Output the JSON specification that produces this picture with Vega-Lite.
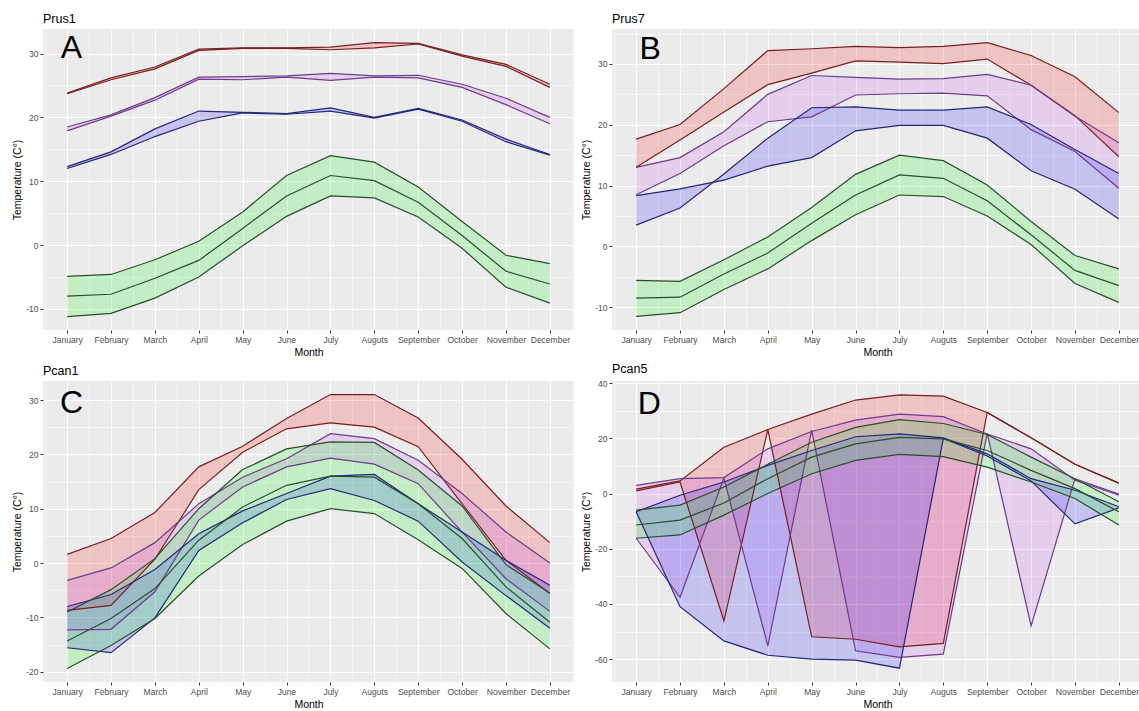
{
  "$schema": "https://vega.github.io/schema/vega-lite/v6.json",
  "padding": {"left": 12, "top": 12, "right": 0, "bottom": 0},
  "background": "#FFFFFF",
  "datasets": {
    "t": [
      {"p":"A","s":"red","m":1,"lo":23.7,"hi":23.8},{"p":"A","s":"red","m":2,"lo":25.9,"hi":26.2},{"p":"A","s":"red","m":3,"lo":27.6,"hi":27.9},{"p":"A","s":"red","m":4,"lo":30.5,"hi":30.7},{"p":"A","s":"red","m":5,"lo":30.8,"hi":30.9},{"p":"A","s":"red","m":6,"lo":30.8,"hi":30.9},{"p":"A","s":"red","m":7,"lo":30.6,"hi":31.0},{"p":"A","s":"red","m":8,"lo":30.9,"hi":31.7},{"p":"A","s":"red","m":9,"lo":31.5,"hi":31.6},{"p":"A","s":"red","m":10,"lo":29.6,"hi":29.8},{"p":"A","s":"red","m":11,"lo":28.0,"hi":28.3},{"p":"A","s":"red","m":12,"lo":24.7,"hi":25.2},
      {"p":"A","s":"purple","m":1,"lo":17.9,"hi":18.5},{"p":"A","s":"purple","m":2,"lo":20.2,"hi":20.4},{"p":"A","s":"purple","m":3,"lo":22.7,"hi":23.1},{"p":"A","s":"purple","m":4,"lo":26.0,"hi":26.3},{"p":"A","s":"purple","m":5,"lo":25.9,"hi":26.4},{"p":"A","s":"purple","m":6,"lo":26.3,"hi":26.5},{"p":"A","s":"purple","m":7,"lo":25.8,"hi":26.9},{"p":"A","s":"purple","m":8,"lo":26.3,"hi":26.5},{"p":"A","s":"purple","m":9,"lo":26.2,"hi":26.6},{"p":"A","s":"purple","m":10,"lo":24.7,"hi":25.2},{"p":"A","s":"purple","m":11,"lo":22.0,"hi":23.0},{"p":"A","s":"purple","m":12,"lo":19.0,"hi":20.0},
      {"p":"A","s":"blue","m":1,"lo":12.0,"hi":12.3},{"p":"A","s":"blue","m":2,"lo":14.2,"hi":14.6},{"p":"A","s":"blue","m":3,"lo":17.0,"hi":18.2},{"p":"A","s":"blue","m":4,"lo":19.4,"hi":21.0},{"p":"A","s":"blue","m":5,"lo":20.7,"hi":20.8},{"p":"A","s":"blue","m":6,"lo":20.5,"hi":20.6},{"p":"A","s":"blue","m":7,"lo":21.0,"hi":21.5},{"p":"A","s":"blue","m":8,"lo":19.9,"hi":20.0},{"p":"A","s":"blue","m":9,"lo":21.3,"hi":21.4},{"p":"A","s":"blue","m":10,"lo":19.4,"hi":19.6},{"p":"A","s":"blue","m":11,"lo":16.2,"hi":16.6},{"p":"A","s":"blue","m":12,"lo":14.1,"hi":14.2},
      {"p":"A","s":"green","m":1,"lo":-11.2,"mid":-8.0,"hi":-4.9},{"p":"A","s":"green","m":2,"lo":-10.7,"mid":-7.7,"hi":-4.6},{"p":"A","s":"green","m":3,"lo":-8.3,"mid":-5.2,"hi":-2.3},{"p":"A","s":"green","m":4,"lo":-5.0,"mid":-2.4,"hi":0.6},{"p":"A","s":"green","m":5,"lo":-0.1,"mid":2.6,"hi":5.2},{"p":"A","s":"green","m":6,"lo":4.5,"mid":7.7,"hi":10.9},{"p":"A","s":"green","m":7,"lo":7.7,"mid":10.9,"hi":14.0},{"p":"A","s":"green","m":8,"lo":7.4,"mid":10.1,"hi":13.0},{"p":"A","s":"green","m":9,"lo":4.4,"mid":6.7,"hi":9.1},{"p":"A","s":"green","m":10,"lo":-0.5,"mid":1.5,"hi":3.7},{"p":"A","s":"green","m":11,"lo":-6.6,"mid":-4.1,"hi":-1.6},{"p":"A","s":"green","m":12,"lo":-9.1,"mid":-6.1,"hi":-2.9},

      {"p":"B","s":"red","m":1,"lo":13.0,"hi":17.65},{"p":"B","s":"red","m":2,"lo":17.5,"hi":20.05},{"p":"B","s":"red","m":3,"lo":22.1,"hi":25.95},{"p":"B","s":"red","m":4,"lo":26.6,"hi":32.2},{"p":"B","s":"red","m":5,"lo":28.5,"hi":32.5},{"p":"B","s":"red","m":6,"lo":30.5,"hi":32.9},{"p":"B","s":"red","m":7,"lo":30.3,"hi":32.7},{"p":"B","s":"red","m":8,"lo":30.05,"hi":32.9},{"p":"B","s":"red","m":9,"lo":30.8,"hi":33.5},{"p":"B","s":"red","m":10,"lo":26.5,"hi":31.4},{"p":"B","s":"red","m":11,"lo":21.5,"hi":27.9},{"p":"B","s":"red","m":12,"lo":14.75,"hi":22.0},
      {"p":"B","s":"purple","m":1,"lo":8.5,"hi":13.0},{"p":"B","s":"purple","m":2,"lo":12.0,"hi":14.6},{"p":"B","s":"purple","m":3,"lo":16.55,"hi":18.85},{"p":"B","s":"purple","m":4,"lo":20.5,"hi":25.0},{"p":"B","s":"purple","m":5,"lo":21.3,"hi":28.1},{"p":"B","s":"purple","m":6,"lo":24.9,"hi":27.8},{"p":"B","s":"purple","m":7,"lo":25.1,"hi":27.5},{"p":"B","s":"purple","m":8,"lo":25.2,"hi":27.6},{"p":"B","s":"purple","m":9,"lo":24.75,"hi":28.3},{"p":"B","s":"purple","m":10,"lo":19.2,"hi":26.5},{"p":"B","s":"purple","m":11,"lo":15.6,"hi":21.4},{"p":"B","s":"purple","m":12,"lo":9.55,"hi":17.05},
      {"p":"B","s":"blue","m":1,"lo":8.35,"hi":3.5},{"p":"B","s":"blue","m":2,"lo":9.45,"hi":6.3},{"p":"B","s":"blue","m":3,"lo":10.9,"hi":11.9},{"p":"B","s":"blue","m":4,"lo":13.2,"hi":17.8},{"p":"B","s":"blue","m":5,"lo":14.6,"hi":22.8},{"p":"B","s":"blue","m":6,"lo":19.0,"hi":22.95},{"p":"B","s":"blue","m":7,"lo":19.9,"hi":22.4},{"p":"B","s":"blue","m":8,"lo":19.9,"hi":22.4},{"p":"B","s":"blue","m":9,"lo":17.8,"hi":22.95},{"p":"B","s":"blue","m":10,"lo":12.45,"hi":20.05},{"p":"B","s":"blue","m":11,"lo":9.4,"hi":15.95},{"p":"B","s":"blue","m":12,"lo":4.5,"hi":12.0},
      {"p":"B","s":"green","m":1,"lo":-11.5,"mid":-8.5,"hi":-5.6},{"p":"B","s":"green","m":2,"lo":-10.9,"mid":-8.35,"hi":-5.75},{"p":"B","s":"green","m":3,"lo":-7.1,"mid":-4.55,"hi":-2.2},{"p":"B","s":"green","m":4,"lo":-3.7,"mid":-1.1,"hi":1.55},{"p":"B","s":"green","m":5,"lo":0.95,"mid":3.8,"hi":6.4},{"p":"B","s":"green","m":6,"lo":5.2,"mid":8.45,"hi":11.85},{"p":"B","s":"green","m":7,"lo":8.45,"mid":11.75,"hi":15.0},{"p":"B","s":"green","m":8,"lo":8.2,"mid":11.2,"hi":14.1},{"p":"B","s":"green","m":9,"lo":5.0,"mid":7.5,"hi":10.1},{"p":"B","s":"green","m":10,"lo":0.3,"mid":1.9,"hi":4.1},{"p":"B","s":"green","m":11,"lo":-6.1,"mid":-3.95,"hi":-1.5},{"p":"B","s":"green","m":12,"lo":-9.2,"mid":-6.45,"hi":-3.7},

      {"p":"C","s":"red","m":1,"lo":-8.7,"hi":1.6},{"p":"C","s":"red","m":2,"lo":-7.8,"hi":4.5},{"p":"C","s":"red","m":3,"lo":0.7,"hi":9.3},{"p":"C","s":"red","m":4,"lo":13.5,"hi":17.7},{"p":"C","s":"red","m":5,"lo":20.4,"hi":21.5},{"p":"C","s":"red","m":6,"lo":24.7,"hi":26.6},{"p":"C","s":"red","m":7,"lo":25.8,"hi":31.0},{"p":"C","s":"red","m":8,"lo":25.0,"hi":31.0},{"p":"C","s":"red","m":9,"lo":21.4,"hi":26.7},{"p":"C","s":"red","m":10,"lo":10.9,"hi":19.1},{"p":"C","s":"red","m":11,"lo":0.5,"hi":10.5},{"p":"C","s":"red","m":12,"lo":-5.6,"hi":3.75},
      {"p":"C","s":"purple","m":1,"lo":-12.3,"hi":-3.2},{"p":"C","s":"purple","m":2,"lo":-12.2,"hi":-0.9},{"p":"C","s":"purple","m":3,"lo":-5.3,"hi":3.75},{"p":"C","s":"purple","m":4,"lo":7.9,"hi":10.9},{"p":"C","s":"purple","m":5,"lo":14.0,"hi":15.8},{"p":"C","s":"purple","m":6,"lo":17.7,"hi":19.2},{"p":"C","s":"purple","m":7,"lo":19.3,"hi":23.8},{"p":"C","s":"purple","m":8,"lo":18.2,"hi":22.9},{"p":"C","s":"purple","m":9,"lo":14.6,"hi":18.9},{"p":"C","s":"purple","m":10,"lo":5.7,"hi":12.8},{"p":"C","s":"purple","m":11,"lo":-2.9,"hi":5.7},{"p":"C","s":"purple","m":12,"lo":-8.9,"hi":0.0},
      {"p":"C","s":"blue","m":1,"lo":-15.6,"hi":-8.0},{"p":"C","s":"blue","m":2,"lo":-16.5,"hi":-5.8},{"p":"C","s":"blue","m":3,"lo":-10.1,"hi":-1.2},{"p":"C","s":"blue","m":4,"lo":2.3,"hi":5.4},{"p":"C","s":"blue","m":5,"lo":7.4,"hi":9.6},{"p":"C","s":"blue","m":6,"lo":11.7,"hi":12.8},{"p":"C","s":"blue","m":7,"lo":13.7,"hi":16.0},{"p":"C","s":"blue","m":8,"lo":11.5,"hi":16.3},{"p":"C","s":"blue","m":9,"lo":7.7,"hi":10.9},{"p":"C","s":"blue","m":10,"lo":0.2,"hi":5.7},{"p":"C","s":"blue","m":11,"lo":-6.0,"hi":0.5},{"p":"C","s":"blue","m":12,"lo":-12.0,"hi":-4.1},
      {"p":"C","s":"green","m":1,"lo":-19.4,"mid":-14.35,"hi":-9.0},{"p":"C","s":"green","m":2,"lo":-15.2,"mid":-10.2,"hi":-4.9},{"p":"C","s":"green","m":3,"lo":-10.2,"mid":-4.7,"hi":0.8},{"p":"C","s":"green","m":4,"lo":-2.4,"mid":4.2,"hi":10.0},{"p":"C","s":"green","m":5,"lo":3.4,"mid":10.3,"hi":17.2},{"p":"C","s":"green","m":6,"lo":7.7,"mid":14.3,"hi":21.0},{"p":"C","s":"green","m":7,"lo":10.0,"mid":16.0,"hi":22.3},{"p":"C","s":"green","m":8,"lo":9.1,"mid":15.8,"hi":22.2},{"p":"C","s":"green","m":9,"lo":4.3,"mid":10.9,"hi":17.1},{"p":"C","s":"green","m":10,"lo":-1.0,"mid":4.5,"hi":10.5},{"p":"C","s":"green","m":11,"lo":-9.3,"mid":-4.4,"hi":-0.3},{"p":"C","s":"green","m":12,"lo":-15.8,"mid":-10.9,"hi":-5.5},

      {"p":"D","s":"red","m":1,"lo":1.0,"hi":1.6},{"p":"D","s":"red","m":2,"lo":4.2,"hi":4.6},{"p":"D","s":"red","m":3,"lo":-46.2,"hi":16.8},{"p":"D","s":"red","m":4,"lo":23.2,"hi":23.2},{"p":"D","s":"red","m":5,"lo":-51.9,"hi":28.8},{"p":"D","s":"red","m":6,"lo":-52.8,"hi":33.9},{"p":"D","s":"red","m":7,"lo":-55.6,"hi":35.8},{"p":"D","s":"red","m":8,"lo":-54.3,"hi":35.3},{"p":"D","s":"red","m":9,"lo":29.4,"hi":29.4},{"p":"D","s":"red","m":10,"lo":20.2,"hi":20.2},{"p":"D","s":"red","m":11,"lo":10.6,"hi":10.6},{"p":"D","s":"red","m":12,"lo":3.8,"hi":3.8},
      {"p":"D","s":"purple","m":1,"lo":-16.2,"hi":3.0},{"p":"D","s":"purple","m":2,"lo":-37.6,"hi":5.4},{"p":"D","s":"purple","m":3,"lo":5.6,"hi":5.8},{"p":"D","s":"purple","m":4,"lo":-55.2,"hi":16.2},{"p":"D","s":"purple","m":5,"lo":23.0,"hi":22.5},{"p":"D","s":"purple","m":6,"lo":-57.0,"hi":26.6},{"p":"D","s":"purple","m":7,"lo":-59.4,"hi":28.8},{"p":"D","s":"purple","m":8,"lo":-58.2,"hi":27.9},{"p":"D","s":"purple","m":9,"lo":21.8,"hi":21.6},{"p":"D","s":"purple","m":10,"lo":-48.0,"hi":16.2},{"p":"D","s":"purple","m":11,"lo":5.4,"hi":4.8},{"p":"D","s":"purple","m":12,"lo":-0.2,"hi":-0.6},
      {"p":"D","s":"blue","m":1,"lo":-6.6,"hi":-6.6},{"p":"D","s":"blue","m":2,"lo":-41.0,"hi":-0.6},{"p":"D","s":"blue","m":3,"lo":-53.4,"hi":4.2},{"p":"D","s":"blue","m":4,"lo":-58.6,"hi":10.2},{"p":"D","s":"blue","m":5,"lo":-60.0,"hi":15.6},{"p":"D","s":"blue","m":6,"lo":-60.4,"hi":20.6},{"p":"D","s":"blue","m":7,"lo":-63.3,"hi":21.6},{"p":"D","s":"blue","m":8,"lo":20.0,"hi":20.2},{"p":"D","s":"blue","m":9,"lo":13.6,"hi":14.4},{"p":"D","s":"blue","m":10,"lo":4.6,"hi":5.4},{"p":"D","s":"blue","m":11,"lo":-11.0,"hi":1.2},{"p":"D","s":"blue","m":12,"lo":-5.2,"hi":-4.8},
      {"p":"D","s":"green","m":1,"lo":-16.2,"mid":-11.4,"hi":-6.0},{"p":"D","s":"green","m":2,"lo":-15.0,"mid":-9.6,"hi":-4.2},{"p":"D","s":"green","m":3,"lo":-7.8,"mid":-3.4,"hi":2.4},{"p":"D","s":"green","m":4,"lo":0.0,"mid":5.4,"hi":10.6},{"p":"D","s":"green","m":5,"lo":7.2,"mid":13.2,"hi":18.6},{"p":"D","s":"green","m":6,"lo":12.0,"mid":18.0,"hi":24.0},{"p":"D","s":"green","m":7,"lo":14.2,"mid":20.4,"hi":26.8},{"p":"D","s":"green","m":8,"lo":13.4,"mid":19.8,"hi":25.4},{"p":"D","s":"green","m":9,"lo":9.6,"mid":15.6,"hi":21.4},{"p":"D","s":"green","m":10,"lo":4.2,"mid":8.4,"hi":13.2},{"p":"D","s":"green","m":11,"lo":-1.8,"mid":1.8,"hi":5.4},{"p":"D","s":"green","m":12,"lo":-11.4,"mid":-6.6,"hi":-3.0}
    ],
    "letters": [{"p":"A","label":"A"},{"p":"B","label":"B"},{"p":"C","label":"C"},{"p":"D","label":"D"}]
  },
  "data": {"name": "t"},
  "columns": 2,
  "spacing": {"row": 4, "column": 7},
  "concat": [
    {
      "width": 531, "height": 301,
      "title": {"text": "Prus1"},
      "transform": [{"filter": "datum.p === 'A'"}],
      "layer": [
        {"mark": {"type": "area", "fillOpacity": 0.17},
         "encoding": {
           "x": {"field": "m", "type": "quantitative", "title": "Month", "scale": {"domain": [0.45, 12.55], "nice": false, "zero": false},
                 "axis": {"tickCount": 60, "values": [0.5,1,1.5,2,2.5,3,3.5,4,4.5,5,5.5,6,6.5,7,7.5,8,8.5,9,9.5,10,10.5,11,11.5,12,12.5], "labelExpr": "abs(datum.value - round(datum.value)) < 0.1 ? (round(datum.value) == 1 ? 'January' : round(datum.value) == 2 ? 'February' : round(datum.value) == 3 ? 'March' : round(datum.value) == 4 ? 'April' : round(datum.value) == 5 ? 'May' : round(datum.value) == 6 ? 'June' : round(datum.value) == 7 ? 'July' : round(datum.value) == 8 ? 'Auguts' : round(datum.value) == 9 ? 'September' : round(datum.value) == 10 ? 'October' : round(datum.value) == 11 ? 'November' : round(datum.value) == 12 ? 'December' : '') : ''", "gridWidth": {"condition": {"test": "abs(datum.value - round(datum.value)) < 0.1", "value": 1.1}, "value": 0.55}, "tickOpacity": {"condition": {"test": "abs(datum.value - round(datum.value)) < 0.1", "value": 1}, "value": 0}}},
           "y": {"field": "lo", "type": "quantitative", "title": "Temperature (C°)", "scale": {"domain": [-13.3, 33.85], "nice": false, "zero": false},
                 "axis": {"tickCount": 60, "values": [-10,-5,0,5,10,15,20,25,30], "labelExpr": "datum.value % 10 === 0 ? '' + datum.value : ''", "gridWidth": {"condition": {"test": "datum.value % 10 === 0", "value": 1.1}, "value": 0.55}, "tickOpacity": {"condition": {"test": "datum.value % 10 === 0", "value": 1}, "value": 0}}},
           "y2": {"field": "hi"},
           "fill": {"field": "s", "type": "nominal", "scale": {"domain": ["red","purple","blue","green"], "range": ["#FF0000","#C040F0","#0000FF","#00FF00"]}, "legend": null}
         }},
        {"mark": {"type": "line", "strokeWidth": 1.2},
         "encoding": {"x": {"field": "m", "type": "quantitative", "title": "Month"}, "y": {"field": "lo", "type": "quantitative", "title": "Temperature (C°)"},
           "stroke": {"field": "s", "type": "nominal", "scale": {"domain": ["red","purple","blue","green"], "range": ["#7A1F1F","#6E3C8C","#26267A","#2A4E2E"]}, "legend": null}}},
        {"mark": {"type": "line", "strokeWidth": 1.2},
         "encoding": {"x": {"field": "m", "type": "quantitative", "title": "Month"}, "y": {"field": "hi", "type": "quantitative", "title": "Temperature (C°)"},
           "stroke": {"field": "s", "type": "nominal", "legend": null}}},
        {"transform": [{"filter": "isValid(datum.mid)"}],
         "mark": {"type": "line", "strokeWidth": 1.2},
         "encoding": {"x": {"field": "m", "type": "quantitative", "title": "Month"}, "y": {"field": "mid", "type": "quantitative", "title": "Temperature (C°)"},
           "stroke": {"field": "s", "type": "nominal", "legend": null}}},
        {"data": {"name": "letters"}, "transform": [{"filter": "datum.p === 'A'"}],
         "mark": {"type": "text", "fontSize": 32, "align": "center", "baseline": "middle", "color": "#000000"},
         "encoding": {"x": {"datum": 1.1}, "y": {"datum": 30.8}, "text": {"field": "label"}}}
      ]
    },
    {
      "width": 531, "height": 301,
      "title": {"text": "Prus7"},
      "transform": [{"filter": "datum.p === 'B'"}],
      "layer": [
        {"mark": {"type": "area", "fillOpacity": 0.17},
         "encoding": {
           "x": {"field": "m", "type": "quantitative", "title": "Month", "scale": {"domain": [0.45, 12.55], "nice": false, "zero": false},
                 "axis": {"tickCount": 60, "values": [0.5,1,1.5,2,2.5,3,3.5,4,4.5,5,5.5,6,6.5,7,7.5,8,8.5,9,9.5,10,10.5,11,11.5,12,12.5], "labelExpr": "abs(datum.value - round(datum.value)) < 0.1 ? (round(datum.value) == 1 ? 'January' : round(datum.value) == 2 ? 'February' : round(datum.value) == 3 ? 'March' : round(datum.value) == 4 ? 'April' : round(datum.value) == 5 ? 'May' : round(datum.value) == 6 ? 'June' : round(datum.value) == 7 ? 'July' : round(datum.value) == 8 ? 'Auguts' : round(datum.value) == 9 ? 'September' : round(datum.value) == 10 ? 'October' : round(datum.value) == 11 ? 'November' : round(datum.value) == 12 ? 'December' : '') : ''", "gridWidth": {"condition": {"test": "abs(datum.value - round(datum.value)) < 0.1", "value": 1.1}, "value": 0.55}, "tickOpacity": {"condition": {"test": "abs(datum.value - round(datum.value)) < 0.1", "value": 1}, "value": 0}}},
           "y": {"field": "lo", "type": "quantitative", "title": "Temperature (C°)", "scale": {"domain": [-13.75, 35.75], "nice": false, "zero": false},
                 "axis": {"tickCount": 60, "values": [-10,-5,0,5,10,15,20,25,30,35], "labelExpr": "datum.value % 10 === 0 ? '' + datum.value : ''", "gridWidth": {"condition": {"test": "datum.value % 10 === 0", "value": 1.1}, "value": 0.55}, "tickOpacity": {"condition": {"test": "datum.value % 10 === 0", "value": 1}, "value": 0}}},
           "y2": {"field": "hi"},
           "fill": {"field": "s", "type": "nominal", "legend": null}
         }},
        {"mark": {"type": "line", "strokeWidth": 1.2},
         "encoding": {"x": {"field": "m", "type": "quantitative", "title": "Month"}, "y": {"field": "lo", "type": "quantitative", "title": "Temperature (C°)"},
           "stroke": {"field": "s", "type": "nominal", "legend": null}}},
        {"mark": {"type": "line", "strokeWidth": 1.2},
         "encoding": {"x": {"field": "m", "type": "quantitative", "title": "Month"}, "y": {"field": "hi", "type": "quantitative", "title": "Temperature (C°)"},
           "stroke": {"field": "s", "type": "nominal", "legend": null}}},
        {"transform": [{"filter": "isValid(datum.mid)"}],
         "mark": {"type": "line", "strokeWidth": 1.2},
         "encoding": {"x": {"field": "m", "type": "quantitative", "title": "Month"}, "y": {"field": "mid", "type": "quantitative", "title": "Temperature (C°)"},
           "stroke": {"field": "s", "type": "nominal", "legend": null}}},
        {"data": {"name": "letters"}, "transform": [{"filter": "datum.p === 'B'"}],
         "mark": {"type": "text", "fontSize": 32, "align": "center", "baseline": "middle", "color": "#000000"},
         "encoding": {"x": {"datum": 1.32}, "y": {"datum": 32.5}, "text": {"field": "label"}}}
      ]
    },
    {
      "width": 531, "height": 301,
      "title": {"text": "Pcan1"},
      "transform": [{"filter": "datum.p === 'C'"}],
      "layer": [
        {"mark": {"type": "area", "fillOpacity": 0.17},
         "encoding": {
           "x": {"field": "m", "type": "quantitative", "title": "Month", "scale": {"domain": [0.45, 12.55], "nice": false, "zero": false},
                 "axis": {"tickCount": 60, "values": [0.5,1,1.5,2,2.5,3,3.5,4,4.5,5,5.5,6,6.5,7,7.5,8,8.5,9,9.5,10,10.5,11,11.5,12,12.5], "labelExpr": "abs(datum.value - round(datum.value)) < 0.1 ? (round(datum.value) == 1 ? 'January' : round(datum.value) == 2 ? 'February' : round(datum.value) == 3 ? 'March' : round(datum.value) == 4 ? 'April' : round(datum.value) == 5 ? 'May' : round(datum.value) == 6 ? 'June' : round(datum.value) == 7 ? 'July' : round(datum.value) == 8 ? 'Auguts' : round(datum.value) == 9 ? 'September' : round(datum.value) == 10 ? 'October' : round(datum.value) == 11 ? 'November' : round(datum.value) == 12 ? 'December' : '') : ''", "gridWidth": {"condition": {"test": "abs(datum.value - round(datum.value)) < 0.1", "value": 1.1}, "value": 0.55}, "tickOpacity": {"condition": {"test": "abs(datum.value - round(datum.value)) < 0.1", "value": 1}, "value": 0}}},
           "y": {"field": "lo", "type": "quantitative", "title": "Temperature (C°)", "scale": {"domain": [-21.9, 33.5], "nice": false, "zero": false},
                 "axis": {"tickCount": 60, "values": [-20,-15,-10,-5,0,5,10,15,20,25,30], "labelExpr": "datum.value % 10 === 0 ? '' + datum.value : ''", "gridWidth": {"condition": {"test": "datum.value % 10 === 0", "value": 1.1}, "value": 0.55}, "tickOpacity": {"condition": {"test": "datum.value % 10 === 0", "value": 1}, "value": 0}}},
           "y2": {"field": "hi"},
           "fill": {"field": "s", "type": "nominal", "legend": null}
         }},
        {"mark": {"type": "line", "strokeWidth": 1.2},
         "encoding": {"x": {"field": "m", "type": "quantitative", "title": "Month"}, "y": {"field": "lo", "type": "quantitative", "title": "Temperature (C°)"},
           "stroke": {"field": "s", "type": "nominal", "legend": null}}},
        {"mark": {"type": "line", "strokeWidth": 1.2},
         "encoding": {"x": {"field": "m", "type": "quantitative", "title": "Month"}, "y": {"field": "hi", "type": "quantitative", "title": "Temperature (C°)"},
           "stroke": {"field": "s", "type": "nominal", "legend": null}}},
        {"transform": [{"filter": "isValid(datum.mid)"}],
         "mark": {"type": "line", "strokeWidth": 1.2},
         "encoding": {"x": {"field": "m", "type": "quantitative", "title": "Month"}, "y": {"field": "mid", "type": "quantitative", "title": "Temperature (C°)"},
           "stroke": {"field": "s", "type": "nominal", "legend": null}}},
        {"data": {"name": "letters"}, "transform": [{"filter": "datum.p === 'C'"}],
         "mark": {"type": "text", "fontSize": 32, "align": "center", "baseline": "middle", "color": "#000000"},
         "encoding": {"x": {"datum": 1.1}, "y": {"datum": 29.4}, "text": {"field": "label"}}}
      ]
    },
    {
      "width": 531, "height": 301,
      "title": {"text": "Pcan5"},
      "transform": [{"filter": "datum.p === 'D'"}],
      "layer": [
        {"mark": {"type": "area", "fillOpacity": 0.17},
         "encoding": {
           "x": {"field": "m", "type": "quantitative", "title": "Month", "scale": {"domain": [0.45, 12.55], "nice": false, "zero": false},
                 "axis": {"tickCount": 60, "values": [0.5,1,1.5,2,2.5,3,3.5,4,4.5,5,5.5,6,6.5,7,7.5,8,8.5,9,9.5,10,10.5,11,11.5,12,12.5], "labelExpr": "abs(datum.value - round(datum.value)) < 0.1 ? (round(datum.value) == 1 ? 'January' : round(datum.value) == 2 ? 'February' : round(datum.value) == 3 ? 'March' : round(datum.value) == 4 ? 'April' : round(datum.value) == 5 ? 'May' : round(datum.value) == 6 ? 'June' : round(datum.value) == 7 ? 'July' : round(datum.value) == 8 ? 'Auguts' : round(datum.value) == 9 ? 'September' : round(datum.value) == 10 ? 'October' : round(datum.value) == 11 ? 'November' : round(datum.value) == 12 ? 'December' : '') : ''", "gridWidth": {"condition": {"test": "abs(datum.value - round(datum.value)) < 0.1", "value": 1.1}, "value": 0.55}, "tickOpacity": {"condition": {"test": "abs(datum.value - round(datum.value)) < 0.1", "value": 1}, "value": 0}}},
           "y": {"field": "lo", "type": "quantitative", "title": "Temperature (C°)", "scale": {"domain": [-68.3, 40.8], "nice": false, "zero": false},
                 "axis": {"tickCount": 60, "values": [-60,-50,-40,-30,-20,-10,0,10,20,30,40], "labelExpr": "datum.value % 20 === 0 ? '' + datum.value : ''", "gridWidth": {"condition": {"test": "datum.value % 20 === 0", "value": 1.1}, "value": 0.55}, "tickOpacity": {"condition": {"test": "datum.value % 20 === 0", "value": 1}, "value": 0}}},
           "y2": {"field": "hi"},
           "fill": {"field": "s", "type": "nominal", "legend": null}
         }},
        {"mark": {"type": "line", "strokeWidth": 1.2},
         "encoding": {"x": {"field": "m", "type": "quantitative", "title": "Month"}, "y": {"field": "lo", "type": "quantitative", "title": "Temperature (C°)"},
           "stroke": {"field": "s", "type": "nominal", "legend": null}}},
        {"mark": {"type": "line", "strokeWidth": 1.2},
         "encoding": {"x": {"field": "m", "type": "quantitative", "title": "Month"}, "y": {"field": "hi", "type": "quantitative", "title": "Temperature (C°)"},
           "stroke": {"field": "s", "type": "nominal", "legend": null}}},
        {"transform": [{"filter": "isValid(datum.mid)"}],
         "mark": {"type": "line", "strokeWidth": 1.2},
         "encoding": {"x": {"field": "m", "type": "quantitative", "title": "Month"}, "y": {"field": "mid", "type": "quantitative", "title": "Temperature (C°)"},
           "stroke": {"field": "s", "type": "nominal", "legend": null}}},
        {"data": {"name": "letters"}, "transform": [{"filter": "datum.p === 'D'"}],
         "mark": {"type": "text", "fontSize": 32, "align": "center", "baseline": "middle", "color": "#000000"},
         "encoding": {"x": {"datum": 1.3}, "y": {"datum": 32.4}, "text": {"field": "label"}}}
      ]
    }
  ],
  "config": {
    "font": "Liberation Sans",
    "view": {"fill": "#EBEBEB", "stroke": null},
    "axis": {"tickCount": 60, "domain": false, "grid": true, "gridColor": "#FFFFFF", "tickColor": "#333333", "tickSize": 3, "tickWidth": 1, "labelColor": "#4D4D4D", "labelFontSize": 8.5, "labelPadding": 2, "titleFontSize": 10.5, "titleFontWeight": "normal", "titleColor": "#000000", "labelOverlap": false, "labelFlush": false, "labelBound": false},
    "axisX": {"titlePadding": 4},
    "axisY": {"titlePadding": 3},
    "title": {"anchor": "start", "frame": "group", "fontSize": 12.5, "fontWeight": "normal", "color": "#000000", "offset": 4}
  }
}
